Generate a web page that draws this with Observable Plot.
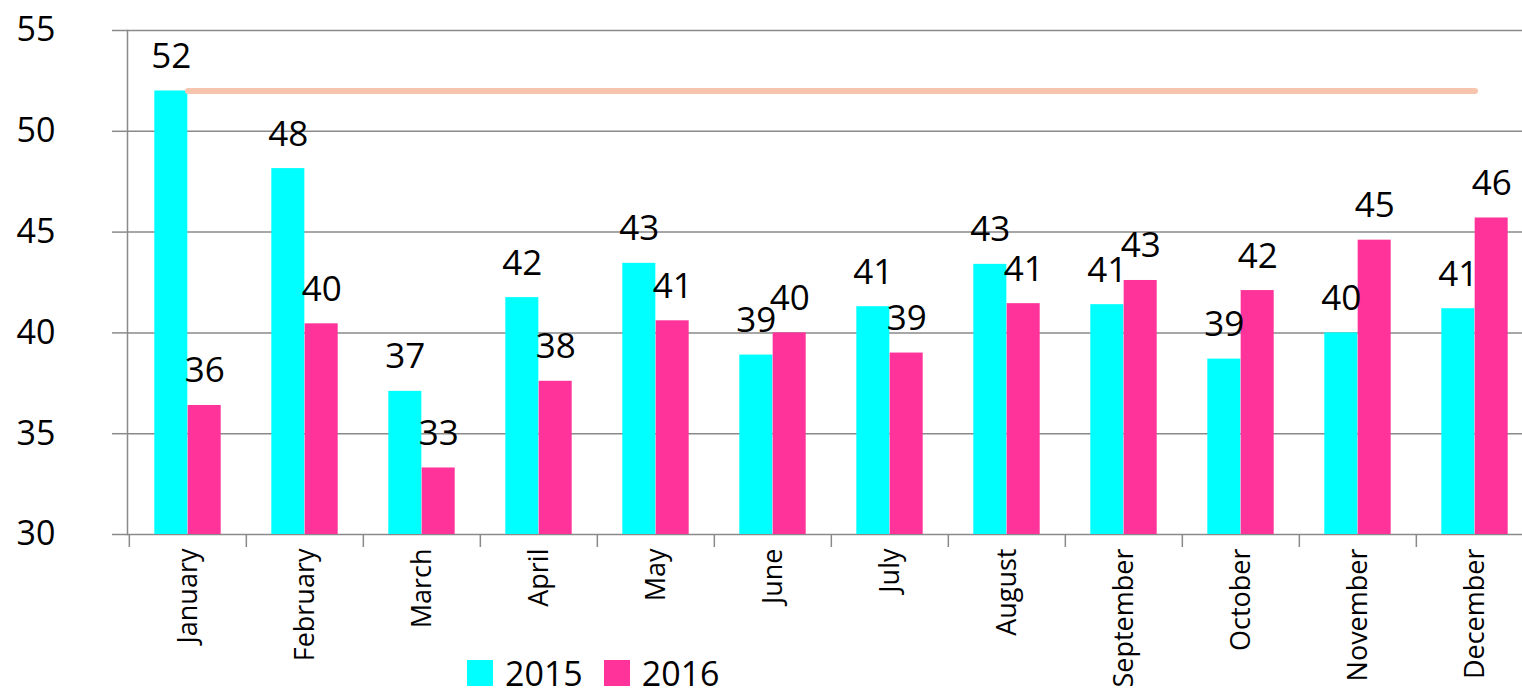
<!DOCTYPE html>
<html>
<head>
<meta charset="utf-8">
<script src="https://cdn.jsdelivr.net/npm/d3@7"></script>
<script src="https://cdn.jsdelivr.net/npm/@observablehq/plot@0.6"></script>
<style>
  html, body { margin: 0; padding: 0; background: #fff; overflow: hidden; }
  #wrap { position: relative; width: 1522px; height: 697px; overflow: hidden; font-family: "Open Sans", sans-serif; }
  #wrap svg { max-width: none !important; }
  #legend { position: absolute; left: 467px; top: 650px; display: flex; align-items: center; font-size: 34px; color: #000; line-height: normal; }
  #legend .sw { width: 26px; height: 26px; display: inline-block; margin-right: 12px; }
  #legend .item { display: flex; align-items: center; margin-right: 21px; }
</style>
</head>
<body>
<div id="wrap"></div>
<script>
const months = ["January","February","March","April","May","June","July","August","September","October","November","December"];
const values2015 = [52.0, 48.15, 37.1, 41.75, 43.45, 38.9, 41.3, 43.4, 41.4, 38.7, 40.0, 41.2];
const values2016 = [36.4, 40.45, 33.3, 37.6, 40.6, 40.0, 39.0, 41.45, 42.6, 42.1, 44.6, 45.7];
const refLine = [52, 52, 52, 52, 52, 52, 52, 52, 52, 52, 52, 52];
const yTicks = [30, 35, 40, 45, 50, 55];
const seriesNames = ["2015", "2016"];
const seriesColors = ["#00FFFF", "#FF3399"];

const rows = months.map((m, i) => ({month: m, v15: values2015[i], v16: values2016[i], ref: refLine[i]}));

const width = 1535, marginLeft = 127, marginRight = 0, marginTop = 30, marginBottom = 163, height = 697;
const step = (width - marginLeft - marginRight) / months.length;
const outer = step * 0.2157;
const barW = step / 2 - outer;
const gray = "#8a8a8a";
const font = "'Open Sans', sans-serif";

const chart = Plot.plot({
  width, height, marginLeft, marginRight, marginTop, marginBottom,
  style: {fontFamily: font, background: "#fff", color: "#000", overflow: "visible", maxWidth: "none"},
  x: {type: "band", domain: months, padding: 0},
  y: {domain: [30, 55]},
  marks: [
    Plot.gridY(yTicks, {stroke: gray, strokeOpacity: 1, strokeWidth: 1.5}),
    Plot.axisY(yTicks, {tickSize: 15, tickPadding: 57, fontSize: 34, stroke: gray, strokeWidth: 1.5, fill: "#000", label: null}),
    Plot.frame({anchor: "left", stroke: gray, strokeWidth: 1.5}),
    Plot.axisX({tickSize: 13, tickFormat: () => "", dx: -step / 2, stroke: gray, strokeWidth: 1.5, label: null}),
    Plot.axisX({tickSize: 0, tickRotate: -90, tickPadding: 14, fontSize: 27, fill: "#000", label: null}),
    Plot.barY(rows, {x: "month", y1: 30, y2: "v15", fill: seriesColors[0], insetLeft: outer, insetRight: step / 2}),
    Plot.barY(rows, {x: "month", y1: 30, y2: "v16", fill: seriesColors[1], insetLeft: step / 2, insetRight: outer}),
    Plot.lineY(rows, {x: "month", y: "ref", stroke: "#F7C5AD", strokeWidth: 6, strokeLinecap: "round"}),
    Plot.text(rows, {x: "month", y: "v15", text: d => String(Math.round(d.v15)), dx: -barW / 2, dy: -23, lineAnchor: "bottom", fontSize: 35, fill: "#000"}),
    Plot.text(rows, {x: "month", y: "v16", text: d => String(Math.round(d.v16)), dx: barW / 2, dy: -23, lineAnchor: "bottom", fontSize: 35, fill: "#000"})
  ]
});
chart.style.maxWidth = "none";

const wrap = document.getElementById("wrap");
wrap.appendChild(chart);
const legend = document.createElement("div");
legend.id = "legend";
seriesNames.forEach((name, i) => {
  const item = document.createElement("span");
  item.className = "item";
  const sw = document.createElement("span");
  sw.className = "sw";
  sw.style.background = seriesColors[i];
  const t = document.createElement("span");
  t.textContent = name;
  item.appendChild(sw);
  item.appendChild(t);
  legend.appendChild(item);
});
wrap.appendChild(legend);
</script>
</body>
</html>
